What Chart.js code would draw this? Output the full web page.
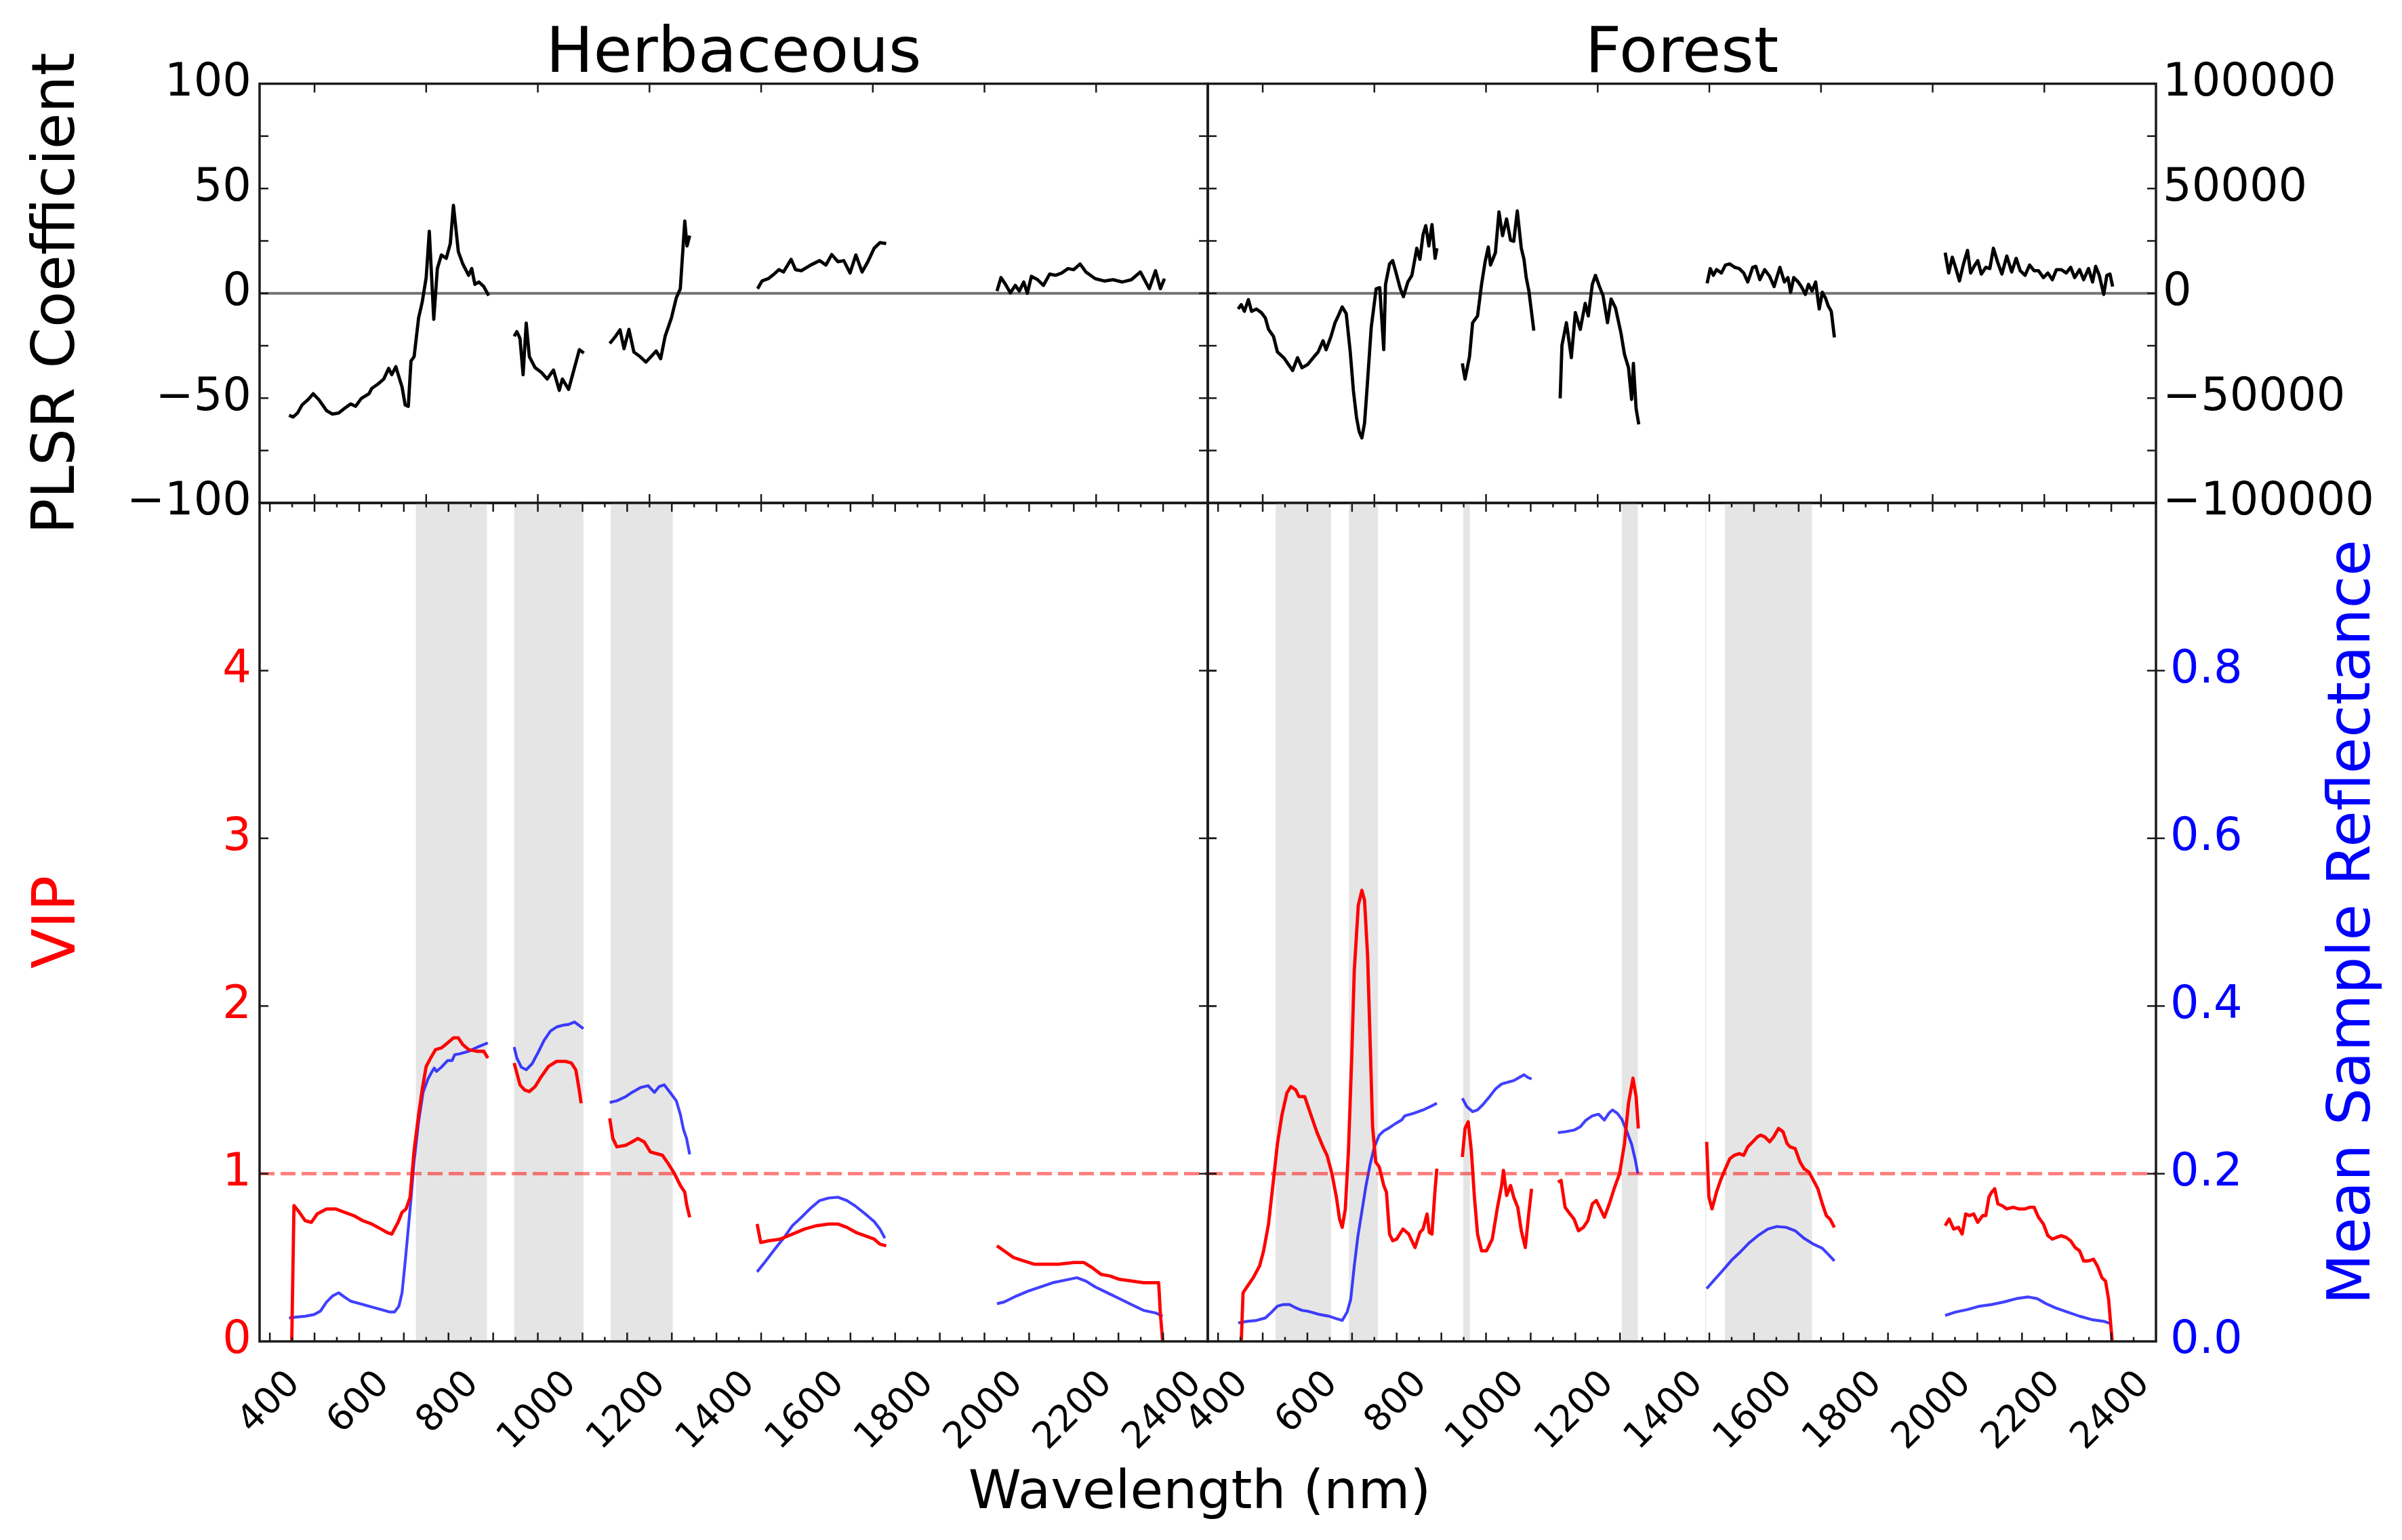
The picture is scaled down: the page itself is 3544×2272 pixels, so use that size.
<!DOCTYPE html>
<html>
<head>
<meta charset="utf-8">
<title>PLSR coefficients and VIP, Herbaceous vs Forest</title>
<script src="https://cdn.jsdelivr.net/npm/chart.js@4.4.1/dist/chart.umd.min.js"></script>
<style>
  html, body { margin: 0; padding: 0; background: #fff; }
  #wrap { position: relative; width: 3544px; height: 2272px; overflow: hidden; }
  #wrap canvas { position: absolute; left: 0; top: 0; }
</style>
</head>
<body>
<div id="wrap">
  <canvas id="herbCoefChart" width="3544" height="2272"></canvas>
  <canvas id="forestCoefChart" width="3544" height="2272"></canvas>
  <canvas id="herbVipChart" width="3544" height="2272"></canvas>
  <canvas id="forestVipChart" width="3544" height="2272"></canvas>
</div>
<script>
// ---- data (wavelength in nm, one sub-array per band segment) ----

const herbCoefNm = [
  [443, 452, 462, 472, 486, 497, 510, 527, 540, 554, 567, 581, 592, 605, 622, 628, 642, 655, 666, 673, 682, 696, 703, 710, 716, 723, 733, 741, 750, 757, 767, 775, 784, 795, 804, 811, 822, 832, 845, 852, 859, 868, 879, 890],
  [947, 953, 960, 967, 974, 981, 994, 1008, 1021, 1035, 1048, 1055, 1069, 1082, 1093, 1103],
  [1161, 1174, 1184, 1193, 1204, 1215, 1229, 1242, 1256, 1265, 1275, 1285, 1299, 1310, 1319, 1329, 1334, 1340],
  [1492, 1502, 1516, 1529, 1540, 1550, 1567, 1577, 1590, 1611, 1631, 1645, 1658, 1672, 1685, 1699, 1712, 1726, 1739, 1753, 1766, 1780],
  [2028, 2037, 2047, 2058, 2069, 2078, 2088, 2096, 2105, 2119, 2132, 2146, 2159, 2173, 2187, 2200, 2214, 2227, 2248, 2268, 2288, 2309, 2329, 2349, 2369, 2383, 2394, 2403]
];
const herbCoef = [
  [-58.2, -59, -57.1, -53.3, -50.6, -47.9, -50.8, -56, -57.6, -57.1, -54.9, -52.8, -53.9, -50.1, -47.9, -45.4, -43.3, -40.9, -35.8, -38.8, -35, -44.7, -53.3, -53.9, -32.3, -30.2, -11.8, -4.3, 7.5, 29.6, -12.4, 11.8, 18.3, 16.7, 23.7, 42, 19.9, 14, 8.6, 11.8, 4.3, 5.4, 3.2, -1.1],
  [-20.5, -18.3, -21.5, -38.8, -14.2, -30.2, -35.5, -37.7, -40.9, -36.6, -46.3, -40.9, -45.8, -35.5, -26.9, -28.5],
  [-23.9, -20.5, -17.4, -26.4, -17.2, -28, -30.2, -32.8, -29.6, -27.5, -31.2, -20.5, -11.8, -2.2, 2.2, 34.5, 22.6, 27.5],
  [2.2, 5.9, 7, 9.2, 11.3, 10.2, 16.2, 11.3, 10.8, 13.5, 15.6, 13.5, 18.5, 15.1, 15.6, 9.7, 18.3, 10.2, 15.1, 21.5, 24.2, 23.7],
  [1.1, 7.5, 4.3, 0.2, 3.8, 1.1, 5.4, 0, 8.1, 6.5, 3.8, 9.2, 8.6, 9.7, 11.8, 11.3, 14, 10.2, 7, 5.9, 6.5, 5.4, 6.5, 10.2, 2.2, 10.8, 2.2, 7]
];

const forestCoefNm = [
  [445, 452, 459, 468, 475, 486, 497, 506, 513, 524, 533, 547, 556, 567, 578, 588, 601, 615, 624, 635, 642, 653, 662, 669, 678, 687, 696, 703, 710, 716, 722, 728, 734, 743, 754, 762, 771, 775, 784, 791, 798, 808, 815, 825, 834, 845, 852, 859, 865, 872, 879, 886, 890],
  [947, 953, 963, 970, 981, 990, 998, 1005, 1010, 1021, 1029, 1037, 1046, 1055, 1062, 1070, 1079, 1085, 1090, 1096, 1107],
  [1166, 1170, 1180, 1191, 1200, 1211, 1222, 1229, 1238, 1245, 1254, 1262, 1272, 1280, 1290, 1302, 1310, 1319, 1326, 1330, 1336, 1342],
  [1495, 1502, 1509, 1516, 1527, 1536, 1546, 1557, 1567, 1577, 1586, 1597, 1604, 1613, 1624, 1635, 1645, 1651, 1658, 1668, 1676, 1682, 1689, 1699, 1706, 1715, 1722, 1730, 1738, 1746, 1753, 1760, 1766, 1773, 1780],
  [2028, 2036, 2044, 2052, 2060, 2069, 2078, 2085, 2093, 2101, 2109, 2119, 2128, 2136, 2146, 2155, 2166, 2177, 2187, 2196, 2207, 2217, 2227, 2237, 2248, 2258, 2268, 2277, 2288, 2299, 2309, 2318, 2329, 2338, 2349, 2358, 2365, 2373, 2383, 2390, 2397, 2403]
];
const forestCoef = [
  [-7500, -5400, -8600, -3000, -8600, -7500, -9200, -11800, -17200, -20500, -28000, -30700, -33400, -36800, -30700, -35500, -33900, -30200, -28000, -22600, -26900, -20500, -14000, -10800, -6500, -9700, -28000, -46300, -59200, -66000, -69000, -62000, -44200, -16200, 2200, 2700, -26900, 4300, 14000, 15600, 10200, 2200, -1600, 5400, 8600, 21500, 16200, 28000, 32300, 22600, 32800, 16700, 21500],
  [-33400, -40900, -30200, -14000, -10800, 4300, 15100, 22100, 13500, 19400, 38800, 27500, 35500, 25300, 24800, 39300, 21500, 16200, 7500, 1100, -17800],
  [-50100, -24800, -14000, -30700, -9200, -17200, -4800, -10800, 4300, 8600, 3200, -1100, -14000, -2700, -7000, -18800, -29100, -35500, -50600, -33400, -54900, -62500],
  [4800, 11800, 8600, 11300, 9700, 13500, 14000, 12400, 11800, 9700, 5400, 12400, 12900, 6500, 11300, 8100, 3200, 7500, 12400, 5400, 7500, 500, 7500, 5400, 3200, -500, 4300, 1100, 5400, -7500, 500, -2200, -5900, -8600, -21000],
  [19400, 9700, 17200, 11800, 5900, 14000, 20500, 9700, 12900, 15600, 9200, 12400, 11800, 21500, 14500, 9200, 17800, 10200, 16700, 10800, 8600, 13500, 10800, 10800, 7500, 9700, 6500, 11300, 11300, 9700, 12400, 7500, 11300, 6500, 11800, 5400, 12900, 8600, -500, 8600, 9200, 3200]
];

const herbVipNm = [
  [449, 454, 466, 479, 493, 506, 527, 547, 567, 588, 608, 628, 649, 662, 673, 687, 696, 705, 714, 723, 733, 741, 750, 760, 771, 784, 798, 811, 822, 832, 845, 863, 879, 888],
  [947, 953, 960, 970, 981, 994, 1008, 1024, 1042, 1062, 1075, 1085, 1092, 1097],
  [1161, 1168, 1177, 1197, 1211, 1224, 1238, 1252, 1265, 1279, 1292, 1306, 1319, 1329, 1333, 1340],
  [1491, 1499, 1516, 1543, 1570, 1597, 1624, 1651, 1672, 1692, 1712, 1733, 1753, 1766, 1780],
  [2028, 2044, 2065, 2088, 2112, 2139, 2166, 2200, 2223, 2241, 2261, 2281, 2302, 2329, 2356, 2390, 2394, 2399]
];
const herbVip = [
  [0, 0.81, 0.77, 0.72, 0.71, 0.76, 0.79, 0.79, 0.77, 0.75, 0.72, 0.70, 0.67, 0.65, 0.64, 0.71, 0.77, 0.79, 0.86, 1.14, 1.35, 1.50, 1.64, 1.69, 1.74, 1.75, 1.78, 1.81, 1.81, 1.77, 1.74, 1.73, 1.73, 1.69],
  [1.66, 1.60, 1.53, 1.50, 1.49, 1.52, 1.58, 1.64, 1.67, 1.67, 1.66, 1.62, 1.51, 1.42],
  [1.33, 1.21, 1.16, 1.17, 1.19, 1.21, 1.19, 1.13, 1.12, 1.11, 1.06, 1.00, 0.93, 0.89, 0.82, 0.74],
  [0.70, 0.59, 0.60, 0.61, 0.64, 0.67, 0.69, 0.70, 0.70, 0.68, 0.65, 0.63, 0.61, 0.58, 0.57],
  [0.57, 0.54, 0.50, 0.48, 0.46, 0.46, 0.46, 0.47, 0.47, 0.44, 0.40, 0.39, 0.37, 0.36, 0.35, 0.35, 0.16, 0]
];

const herbReflNm = [
  [443, 459, 479, 499, 513, 527, 540, 554, 567, 581, 594, 608, 628, 649, 669, 679, 689, 696, 703, 710, 716, 723, 733, 743, 754, 761, 768, 773, 784, 798, 808, 814, 825, 845, 865, 888],
  [947, 953, 963, 974, 987, 1001, 1014, 1028, 1042, 1055, 1069, 1082, 1092, 1102],
  [1161, 1177, 1197, 1211, 1231, 1247, 1261, 1272, 1283, 1296, 1310, 1319, 1326, 1333, 1340],
  [1491, 1509, 1529, 1550, 1570, 1590, 1611, 1631, 1651, 1672, 1692, 1712, 1733, 1753, 1766, 1777],
  [2028, 2044, 2071, 2098, 2126, 2153, 2180, 2207, 2227, 2248, 2275, 2302, 2329, 2356, 2383, 2399]
];
const herbRefl = [
  [0.028, 0.029, 0.030, 0.032, 0.036, 0.047, 0.054, 0.058, 0.053, 0.048, 0.046, 0.044, 0.041, 0.038, 0.035, 0.035, 0.042, 0.058, 0.095, 0.135, 0.170, 0.215, 0.262, 0.297, 0.313, 0.320, 0.326, 0.322, 0.327, 0.335, 0.335, 0.342, 0.343, 0.346, 0.351, 0.356],
  [0.351, 0.338, 0.327, 0.324, 0.331, 0.345, 0.359, 0.370, 0.375, 0.377, 0.378, 0.381, 0.377, 0.373],
  [0.285, 0.287, 0.292, 0.297, 0.303, 0.305, 0.297, 0.304, 0.306, 0.297, 0.287, 0.271, 0.253, 0.242, 0.223],
  [0.083, 0.095, 0.109, 0.123, 0.138, 0.148, 0.159, 0.168, 0.171, 0.172, 0.168, 0.161, 0.152, 0.143, 0.134, 0.123],
  [0.045, 0.047, 0.054, 0.060, 0.065, 0.070, 0.073, 0.076, 0.072, 0.065, 0.058, 0.051, 0.044, 0.037, 0.034, 0.030]
];

const forestVipNm = [
  [452, 456, 466, 479, 493, 502, 513, 524, 533, 543, 554, 563, 574, 581, 594, 608, 621, 635, 644, 655, 665, 672, 678, 685, 692, 699, 705, 714, 722, 728, 735, 741, 746, 753, 761, 771, 777, 784, 791, 800, 814, 827, 841, 852, 859, 868, 873, 879, 886, 890],
  [947, 953, 960, 967, 974, 981, 990, 1001, 1014, 1025, 1035, 1039, 1046, 1055, 1062, 1071, 1079, 1088, 1096, 1102],
  [1161, 1168, 1177, 1188, 1197, 1207, 1218, 1228, 1238, 1247, 1256, 1265, 1276, 1288, 1299, 1310, 1319, 1329, 1336, 1341],
  [1494, 1499, 1506, 1516, 1525, 1536, 1546, 1556, 1567, 1577, 1586, 1597, 1608, 1615, 1624, 1635, 1644, 1655, 1665, 1674, 1681, 1692, 1703, 1712, 1723, 1733, 1743, 1753, 1762, 1770, 1780],
  [2028, 2037, 2047, 2058, 2066, 2074, 2082, 2092, 2101, 2112, 2119, 2126, 2132, 2139, 2146, 2155, 2166, 2180, 2193, 2207, 2218, 2227, 2237, 2248, 2258, 2268, 2277, 2288, 2299, 2309, 2319, 2329, 2338, 2349, 2360, 2369, 2379, 2387, 2394, 2399, 2402]
];
const forestVip = [
  [0, 0.29, 0.33, 0.38, 0.45, 0.54, 0.70, 0.96, 1.18, 1.35, 1.48, 1.52, 1.50, 1.46, 1.46, 1.35, 1.25, 1.16, 1.11, 1.00, 0.86, 0.73, 0.68, 0.79, 1.14, 1.67, 2.21, 2.60, 2.69, 2.63, 2.29, 1.74, 1.28, 1.07, 1.04, 0.93, 0.89, 0.64, 0.60, 0.61, 0.67, 0.64, 0.56, 0.65, 0.67, 0.76, 0.65, 0.64, 0.91, 1.03],
  [1.10, 1.27, 1.31, 1.14, 0.86, 0.64, 0.54, 0.54, 0.61, 0.79, 0.93, 1.02, 0.87, 0.93, 0.86, 0.80, 0.66, 0.56, 0.77, 0.91],
  [0.95, 0.96, 0.80, 0.76, 0.73, 0.66, 0.68, 0.72, 0.82, 0.84, 0.79, 0.74, 0.82, 0.92, 1.00, 1.18, 1.42, 1.57, 1.46, 1.27],
  [1.19, 0.86, 0.79, 0.89, 0.96, 1.03, 1.09, 1.11, 1.12, 1.11, 1.16, 1.19, 1.22, 1.23, 1.22, 1.19, 1.22, 1.27, 1.25, 1.18, 1.16, 1.15, 1.07, 1.03, 1.01, 0.96, 0.91, 0.82, 0.75, 0.73, 0.68],
  [0.69, 0.73, 0.67, 0.68, 0.64, 0.76, 0.75, 0.76, 0.71, 0.75, 0.75, 0.86, 0.89, 0.91, 0.82, 0.81, 0.79, 0.80, 0.79, 0.79, 0.80, 0.80, 0.74, 0.70, 0.63, 0.61, 0.62, 0.63, 0.62, 0.60, 0.56, 0.54, 0.48, 0.48, 0.49, 0.45, 0.38, 0.36, 0.25, 0.09, 0]
];

const forestReflNm = [
  [445, 466, 486, 506, 520, 533, 547, 560, 574, 588, 601, 615, 628, 649, 665, 678, 689, 697, 705, 713, 722, 731, 740, 750, 761, 771, 784, 798, 811, 818, 838, 859, 879, 890],
  [947, 957, 970, 981, 994, 1008, 1021, 1035, 1048, 1062, 1075, 1085, 1093, 1102],
  [1161, 1177, 1197, 1211, 1224, 1238, 1252, 1265, 1275, 1283, 1294, 1304, 1315, 1326, 1334, 1340],
  [1494, 1509, 1529, 1550, 1570, 1590, 1611, 1631, 1651, 1672, 1692, 1712, 1733, 1753, 1766, 1780],
  [2028, 2051, 2078, 2105, 2132, 2159, 2187, 2214, 2234, 2254, 2275, 2302, 2329, 2356, 2383, 2399]
];
const forestRefl = [
  [0.022, 0.024, 0.025, 0.028, 0.035, 0.042, 0.044, 0.044, 0.040, 0.037, 0.036, 0.034, 0.032, 0.030, 0.027, 0.025, 0.035, 0.050, 0.090, 0.125, 0.155, 0.185, 0.210, 0.232, 0.246, 0.251, 0.255, 0.260, 0.264, 0.269, 0.272, 0.276, 0.281, 0.284],
  [0.290, 0.280, 0.274, 0.276, 0.283, 0.292, 0.301, 0.307, 0.309, 0.311, 0.315, 0.318, 0.315, 0.313],
  [0.249, 0.250, 0.252, 0.256, 0.264, 0.269, 0.271, 0.264, 0.272, 0.276, 0.272, 0.265, 0.251, 0.235, 0.217, 0.200],
  [0.063, 0.072, 0.084, 0.097, 0.107, 0.118, 0.127, 0.134, 0.137, 0.136, 0.132, 0.123, 0.116, 0.111, 0.104, 0.096],
  [0.031, 0.035, 0.038, 0.042, 0.044, 0.047, 0.051, 0.053, 0.051, 0.045, 0.040, 0.035, 0.030, 0.026, 0.024, 0.021]
];

// shaded wavelength ranges (nm)
const herbSpans = [[727, 886], [947, 1102], [1163, 1302]];
const forestSpans = [[529, 653], [693, 758], [949, 964], [1304, 1340], [1491, 1493], [1535, 1730]];

// ticks
const wavelengthLabels = [400, 600, 800, 1000, 1200, 1400, 1600, 1800, 2000, 2200, 2400];
const wavelengthMajor = [400, 500, 600, 700, 800, 900, 1000, 1100, 1200, 1300, 1400, 1500, 1600, 1700, 1800, 1900, 2000, 2100, 2200, 2300, 2400];
const wavelengthMinor = [450, 550, 650, 750, 850, 950, 1050, 1150, 1250, 1350, 1450, 1550, 1650, 1750, 1850, 1950, 2050, 2150, 2250, 2350, 2450];
const coefPanelNmTicks = [500, 750, 1000, 1250, 1500, 1750, 2000, 2250];
const herbCoefTicks = [-75, -50, -25, 0, 25, 50, 75];
const forestCoefTicks = [-75000, -50000, -25000, 0, 25000, 50000, 75000];
const vipTicks = [1, 2, 3, 4];

// ---- layout ----
const FONT = '"DejaVu Sans", "Liberation Sans", sans-serif';
const PAGE_W = 3544, PAGE_H = 2272;
const X_LEFT = 383, X_MID = 1782, X_RIGHT = 3181;
const Y_TOP = 123.5, Y_MID = 742, Y_BOTTOM = 1979;
const AXIS_W = 330;
const SPINE = '#1a1a1a';

Chart.defaults.font.family = FONT;

function series(nmSegments, valueSegments) {
  const pts = [];
  nmSegments.forEach((seg, s) => {
    if (valueSegments[s].length !== seg.length) console.warn('segment length mismatch', s);
    if (s > 0) pts.push({ x: seg[0], y: null });
    seg.forEach((nm, i) => pts.push({ x: nm, y: valueSegments[s][i] }));
  });
  return pts;
}

function minusFmt(v) {
  return v < 0 ? '\u2212' + Math.abs(v) : String(v);
}

function line(data, color, width, axis) {
  return {
    data: data,
    yAxisID: axis,
    borderColor: color,
    borderWidth: width,
    pointRadius: 0,
    tension: 0,
    fill: false,
    spanGaps: false,
    borderJoinStyle: 'round'
  };
}

const xScale = { type: 'linear', min: 377, max: 2500, display: false };

function hiddenY(min, max, position) {
  return { type: 'linear', position: position, min: min, max: max, display: false };
}

function labelledY(min, max, position, step, color, pad, fmt) {
  return {
    type: 'linear',
    position: position,
    min: min,
    max: max,
    afterFit: (scale) => { scale.width = AXIS_W; },
    grid: { display: false, drawTicks: false },
    border: { display: false },
    ticks: { stepSize: step, padding: pad, color: color, font: { size: 67 }, callback: fmt }
  };
}

// spans, reference line, inward ticks, frame and free text
function panelDecor(cfg) {
  return {
    id: 'panelDecor',
    beforeDatasetsDraw(chart) {
      const { ctx, chartArea: a } = chart;
      const x = chart.scales.x;
      ctx.save();
      ctx.fillStyle = '#e5e5e5';
      (cfg.spans || []).forEach(([from, to]) => {
        const x0 = x.getPixelForValue(from);
        const x1 = x.getPixelForValue(to);
        ctx.fillRect(x0, a.top, x1 - x0, a.bottom - a.top);
      });
      ctx.restore();
    },
    afterDatasetsDraw(chart) {
      const { ctx, chartArea: a } = chart;
      const x = chart.scales.x;
      const y = chart.scales[cfg.yAxis];
      ctx.save();
      if (cfg.refLine) {
        const py = y.getPixelForValue(cfg.refLine.value);
        ctx.strokeStyle = cfg.refLine.color;
        ctx.lineWidth = cfg.refLine.width;
        ctx.setLineDash(cfg.refLine.dash || []);
        ctx.beginPath();
        ctx.moveTo(a.left, py);
        ctx.lineTo(a.right, py);
        ctx.stroke();
        ctx.setLineDash([]);
      }
      ctx.strokeStyle = SPINE;
      ctx.lineWidth = 2.5;
      const seg = (x0, y0, x1, y1) => {
        ctx.beginPath();
        ctx.moveTo(x0, y0);
        ctx.lineTo(x1, y1);
        ctx.stroke();
      };
      const xTicks = (values, len) => values.forEach((v) => {
        const px = x.getPixelForValue(v);
        seg(px, a.bottom, px, a.bottom - len);
        seg(px, a.top, px, a.top + len);
      });
      xTicks(cfg.xMajor || [], 13);
      xTicks(cfg.xMinor || [], 6.5);
      (cfg.yTicks || []).forEach((v) => {
        const py = y.getPixelForValue(v);
        seg(a.left, py, a.left + 13, py);
        seg(a.right - 13, py, a.right + (cfg.rightOut ? 13 : 0), py);
      });
      ctx.lineWidth = 3.5;
      ctx.strokeRect(a.left, a.top, a.right - a.left, a.bottom - a.top);
      ctx.restore();
    },
    afterDraw(chart) {
      const { ctx } = chart;
      const x = chart.scales.x;
      ctx.save();
      if (cfg.xLabels) {
        const fs = 54;
        ctx.font = fs + 'px ' + FONT;
        ctx.fillStyle = '#000';
        ctx.textAlign = 'center';
        ctx.textBaseline = 'middle';
        cfg.xLabels.forEach((v) => {
          const label = String(v);
          const w = ctx.measureText(label).width;
          const px = x.getPixelForValue(v);
          const cy = 2022 + (w + 0.6 * fs) * 0.3536;
          ctx.save();
          ctx.translate(px, cy);
          ctx.rotate(-Math.PI / 4);
          ctx.fillText(label, 0, 0);
          ctx.restore();
        });
      }
      (cfg.texts || []).forEach((t) => {
        ctx.save();
        ctx.font = t.size + 'px ' + FONT;
        ctx.fillStyle = t.color || '#000';
        ctx.textAlign = 'center';
        ctx.textBaseline = 'alphabetic';
        ctx.translate(t.x, t.y);
        if (t.vertical) ctx.rotate(-Math.PI / 2);
        ctx.fillText(t.text, 0, 0);
        ctx.restore();
      });
      ctx.restore();
    }
  };
}

const common = {
  responsive: false,
  animation: false,
  devicePixelRatio: 1,
  events: [],
  plugins: { legend: { display: false }, tooltip: { enabled: false }, title: { display: false } }
};

const charts = {};

charts.herbCoef = new Chart(document.getElementById('herbCoefChart'), {
  type: 'line',
  data: { datasets: [line(series(herbCoefNm, herbCoef), '#000', 4.8, 'coef')] },
  options: {
    ...common,
    layout: { padding: { left: X_LEFT - AXIS_W, right: PAGE_W - X_MID, top: Y_TOP, bottom: PAGE_H - Y_MID } },
    scales: { x: xScale, coef: labelledY(-100, 100, 'left', 50, '#000', 12, minusFmt) }
  },
  plugins: [panelDecor({
    yAxis: 'coef',
    refLine: { value: 0, color: 'rgba(0,0,0,0.55)', width: 4 },
    xMajor: coefPanelNmTicks,
    yTicks: herbCoefTicks,
    texts: [
      { text: 'Herbaceous', x: (X_LEFT + X_MID) / 2, y: 106, size: 93 },
      { text: 'PLSR Coefficient', x: 109, y: (Y_TOP + Y_MID) / 2, size: 87, vertical: true }
    ]
  })]
});

charts.forestCoef = new Chart(document.getElementById('forestCoefChart'), {
  type: 'line',
  data: { datasets: [line(series(forestCoefNm, forestCoef), '#000', 4.8, 'coef')] },
  options: {
    ...common,
    layout: { padding: { left: X_MID, right: PAGE_W - X_RIGHT - AXIS_W, top: Y_TOP, bottom: PAGE_H - Y_MID } },
    scales: { x: xScale, coef: labelledY(-100000, 100000, 'right', 50000, '#000', 10, minusFmt) }
  },
  plugins: [panelDecor({
    yAxis: 'coef',
    refLine: { value: 0, color: 'rgba(0,0,0,0.55)', width: 4 },
    xMajor: coefPanelNmTicks,
    yTicks: forestCoefTicks,
    texts: [
      { text: 'Forest', x: (X_MID + X_RIGHT) / 2, y: 106, size: 93 }
    ]
  })]
});

charts.herbVip = new Chart(document.getElementById('herbVipChart'), {
  type: 'line',
  data: {
    datasets: [
      line(series(herbVipNm, herbVip), '#ff0000', 4.8, 'vip'),
      line(series(herbReflNm, herbRefl), 'rgba(0,0,255,0.75)', 4.2, 'refl')
    ]
  },
  options: {
    ...common,
    layout: { padding: { left: X_LEFT - AXIS_W, right: PAGE_W - X_MID, top: Y_MID, bottom: PAGE_H - Y_BOTTOM } },
    scales: {
      x: xScale,
      vip: labelledY(0, 5, 'left', 1, '#ff0000', 12, (v) => (v >= 5 ? '' : String(v))),
      refl: hiddenY(0, 1, 'right')
    }
  },
  plugins: [panelDecor({
    yAxis: 'vip',
    spans: herbSpans,
    refLine: { value: 1, color: 'rgba(255,0,0,0.5)', width: 5, dash: [22, 9] },
    xMajor: wavelengthMajor,
    xMinor: wavelengthMinor,
    yTicks: vipTicks,
    rightOut: true,
    xLabels: wavelengthLabels,
    texts: [
      { text: 'VIP', x: 110, y: (Y_MID + Y_BOTTOM) / 2, size: 87, color: '#ff0000', vertical: true },
      { text: 'Wavelength (nm)', x: 1770, y: 2225, size: 79 }
    ]
  })]
});

charts.forestVip = new Chart(document.getElementById('forestVipChart'), {
  type: 'line',
  data: {
    datasets: [
      line(series(forestVipNm, forestVip), '#ff0000', 4.8, 'vip'),
      line(series(forestReflNm, forestRefl), 'rgba(0,0,255,0.75)', 4.2, 'refl')
    ]
  },
  options: {
    ...common,
    layout: { padding: { left: X_MID, right: PAGE_W - X_RIGHT - AXIS_W, top: Y_MID, bottom: PAGE_H - Y_BOTTOM } },
    scales: {
      x: xScale,
      vip: hiddenY(0, 5, 'left'),
      refl: labelledY(0, 1, 'right', 0.2, '#0000ff', 21, (v) => (v >= 0.999 ? '' : v.toFixed(1)))
    }
  },
  plugins: [panelDecor({
    yAxis: 'vip',
    spans: forestSpans,
    refLine: { value: 1, color: 'rgba(255,0,0,0.5)', width: 5, dash: [22, 9] },
    xMajor: wavelengthMajor,
    xMinor: wavelengthMinor,
    yTicks: vipTicks,
    rightOut: true,
    xLabels: wavelengthLabels,
    texts: [
      { text: 'Mean Sample Reflectance', x: 3496, y: (Y_MID + Y_BOTTOM) / 2, size: 87, color: '#0000ff', vertical: true }
    ]
  })]
});
</script>
</body>
</html>
